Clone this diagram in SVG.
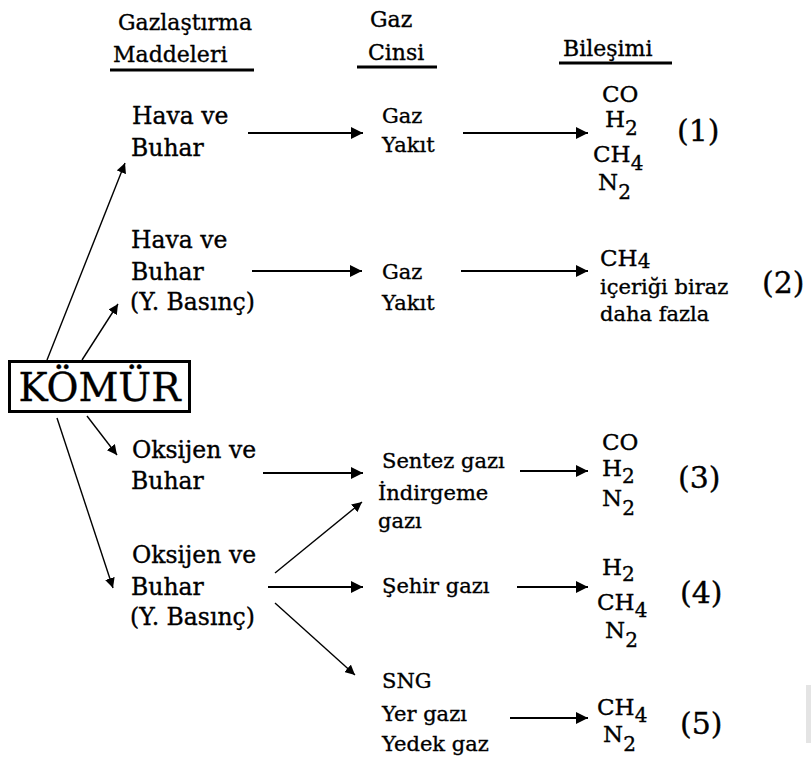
<svg xmlns="http://www.w3.org/2000/svg" width="811" height="761" viewBox="0 0 811 761">
<defs>
<marker id="ah" markerUnits="userSpaceOnUse" markerWidth="13" markerHeight="12" refX="12" refY="6" orient="auto">
<path d="M0,0 L12,6 L0,12 Z" fill="#000"/>
</marker>
<marker id="ahs" markerUnits="userSpaceOnUse" markerWidth="11" markerHeight="10" refX="10" refY="5" orient="auto">
<path d="M0,0 L10,5 L0,10 Z" fill="#000"/>
</marker>
</defs>
<style>
text{font-family:"DejaVu Serif","Liberation Serif",serif;fill:#000;stroke:#000;stroke-width:0.35}
.h{font-size:22px}
.l{font-size:23.5px}
.m{font-size:21px}
.f{font-size:23px}
.s{font-size:20px}
.n{font-size:30px}
.ul{stroke:#000;stroke-width:3}
.c{stroke:#000;stroke-width:2;fill:none;marker-end:url(#ah)}
.d{stroke:#000;stroke-width:1.4;fill:none;marker-end:url(#ahs)}
</style>
<rect width="811" height="761" fill="#fff"/>
<rect x="806" y="685" width="5" height="58" fill="#e4e4e4"/>

<g id="headers">
<text class="h" x="118" y="30">Gazlaştırma</text>
<text class="h" x="113" y="62">Maddeleri</text>
<line class="ul" x1="110" y1="70" x2="254" y2="70"/>
<text class="h" x="370" y="27">Gaz</text>
<text class="h" x="368" y="60">Cinsi</text>
<line class="ul" x1="357" y1="67" x2="437" y2="67"/>
<text class="h" x="563" y="56">Bileşimi</text>
<line class="ul" x1="559" y1="63" x2="672" y2="63"/>
</g>

<g id="komur">
<rect x="9.5" y="361.5" width="180" height="50" fill="#fff" stroke="#000" stroke-width="3"/>
<text x="99.5" y="401" font-size="39" text-anchor="middle">KÖMÜR</text>
</g>

<g id="src1">
<text class="l" x="132" y="124">Hava ve</text>
<text class="l" x="131" y="156">Buhar</text>
</g>
<g id="src2">
<text class="l" x="131" y="248">Hava ve</text>
<text class="l" x="131" y="280">Buhar</text>
<text class="l" x="130" y="310">(Y. Basınç)</text>
</g>
<g id="src3">
<text class="l" x="132" y="458">Oksijen ve</text>
<text class="l" x="131" y="489">Buhar</text>
</g>
<g id="src4">
<text class="l" x="132" y="563">Oksijen ve</text>
<text class="l" x="131" y="595">Buhar</text>
<text class="l" x="130" y="625">(Y. Basınç)</text>
</g>

<g id="gas1">
<text class="m" x="382" y="123">Gaz</text>
<text class="m" x="382" y="152">Yakıt</text>
</g>
<g id="gas2">
<text class="m" x="382" y="279">Gaz</text>
<text class="m" x="382" y="310">Yakıt</text>
</g>
<g id="gas3">
<text class="m" x="382" y="468">Sentez gazı</text>
<text class="m" x="378" y="500">İndirgeme</text>
<text class="m" x="378" y="528">gazı</text>
</g>
<g id="gas4">
<text class="m" x="382" y="593">Şehir gazı</text>
</g>
<g id="gas5">
<text class="m" x="382" y="688">SNG</text>
<text class="m" x="382" y="721">Yer gazı</text>
<text class="m" x="382" y="751">Yedek gaz</text>
</g>

<g id="comp1">
<text class="f" x="602" y="102">CO</text>
<text class="f" x="605" y="127">H<tspan class="s" dy="8">2</tspan></text>
<text class="f" x="593" y="162">CH<tspan class="s" dy="8">4</tspan></text>
<text class="f" x="598" y="190">N<tspan class="s" dy="9">2</tspan></text>
<text class="n" x="677" y="141">(1)</text>
</g>
<g id="comp2">
<text class="f" x="600" y="266">CH<tspan class="s" dy="2">4</tspan></text>
<text class="m" x="600" y="294">içeriği biraz</text>
<text class="m" x="600" y="321">daha fazla</text>
<text class="n" x="762" y="293">(2)</text>
</g>
<g id="comp3">
<text class="f" x="602" y="450">CO</text>
<text class="f" x="602" y="476">H<tspan class="s" dy="7">2</tspan></text>
<text class="f" x="602" y="506">N<tspan class="s" dy="9">2</tspan></text>
<text class="n" x="678" y="488">(3)</text>
</g>
<g id="comp4">
<text class="f" x="602" y="575">H<tspan class="s" dy="6">2</tspan></text>
<text class="f" x="597" y="610">CH<tspan class="s" dy="7">4</tspan></text>
<text class="f" x="605" y="638">N<tspan class="s" dy="9">2</tspan></text>
<text class="n" x="680" y="603">(4)</text>
</g>
<g id="comp5">
<text class="f" x="597" y="715">CH<tspan class="s" dy="7">4</tspan></text>
<text class="f" x="603" y="742">N<tspan class="s" dy="9">2</tspan></text>
<text class="n" x="680" y="734">(5)</text>
</g>

<g id="connectors">
<line class="d" x1="47" y1="360" x2="125" y2="163"/>
<line class="d" x1="82" y1="360" x2="118" y2="304"/>
<line class="d" x1="87" y1="416" x2="117" y2="455"/>
<line class="d" x1="57" y1="418" x2="113" y2="588"/>
<line class="c" x1="248" y1="133" x2="363" y2="133"/>
<line class="c" x1="463" y1="133" x2="588" y2="133"/>
<line class="c" x1="252" y1="271" x2="362" y2="271"/>
<line class="c" x1="461" y1="271" x2="588" y2="271"/>
<line class="c" x1="263" y1="473" x2="363" y2="473"/>
<line class="c" x1="520" y1="471" x2="588" y2="471"/>
<line class="d" x1="275" y1="573" x2="362" y2="502"/>
<line class="c" x1="268" y1="587" x2="363" y2="587"/>
<line class="c" x1="517" y1="587" x2="588" y2="587"/>
<line class="d" x1="275" y1="603" x2="355" y2="675"/>
<line class="c" x1="510" y1="718" x2="588" y2="718"/>
</g>
</svg>
